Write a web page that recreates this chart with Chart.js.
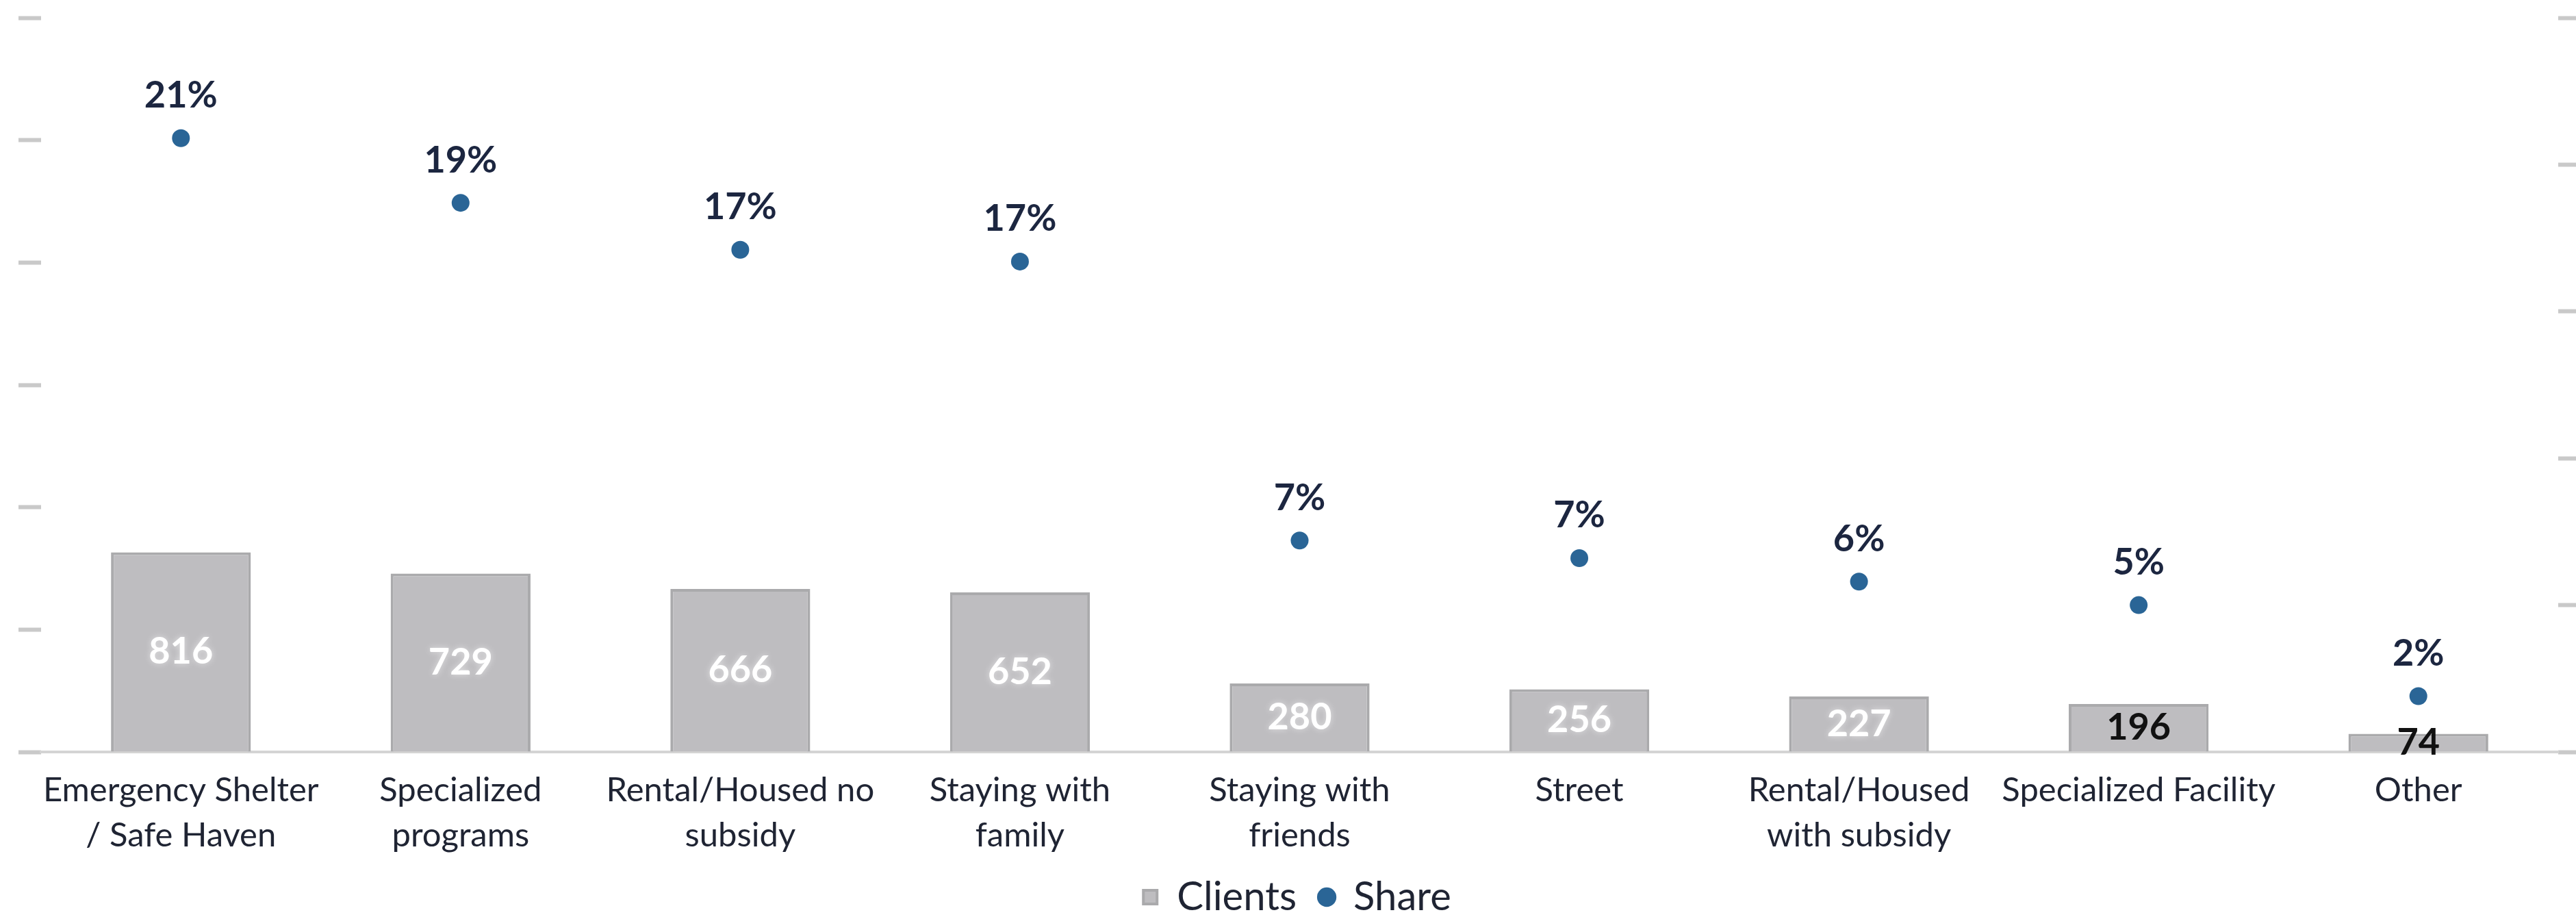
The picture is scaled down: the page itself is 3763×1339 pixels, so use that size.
<!DOCTYPE html>
<html>
<head>
<meta charset="utf-8">
<title>Clients by prior living situation</title>
<script src="https://cdn.jsdelivr.net/npm/chart.js@4/dist/chart.umd.min.js"></script>
<style>
  html, body { margin: 0; padding: 0; background: #ffffff; }
  #wrap { width: 3763px; height: 1339px; }
</style>
</head>
<body>
<div id="wrap"><canvas id="chart" width="3763" height="1339"></canvas></div>
<script>
// Prior living situation categories (x axis)
const categories = [
  ['Emergency Shelter', '/ Safe Haven'],
  ['Specialized', 'programs'],
  ['Rental/Housed no', 'subsidy'],
  ['Staying with', 'family'],
  ['Staying with', 'friends'],
  'Street',
  ['Rental/Housed', 'with subsidy'],
  'Specialized Facility',
  'Other'
];

// Number of clients per category (left axis)
const clients = [816, 729, 666, 652, 280, 256, 227, 196, 74];

// Share of all clients per category (right axis)
const share = [0.209, 0.187, 0.171, 0.167, 0.072, 0.066, 0.058, 0.050, 0.019];

// Axis ranges and tick steps
const clientAxis = { min: 0, max: 3000, step: 500 };
const shareAxis = { min: 0, max: 0.25, step: 0.05 };

// ---- styling ----
const FONT = "Lato, 'Liberation Sans', sans-serif";
const TEXT = '#1f2433';
const BAR_FILL = '#bebdc0';
const BAR_EDGE = '#aaaaac';
const DOT = '#2a6596';
const TICK_GREY = '#c9c9c9';
// white numbers on the taller bars, dark on the two shortest
const barLabelColors = ['#ffffff', '#ffffff', '#ffffff', '#ffffff', '#ffffff', '#ffffff', '#ffffff', '#111111', '#111111'];

// Draws the value labels: counts centred inside bars, percentages above dots
const valueLabels = {
  id: 'valueLabels',
  afterDatasetsDraw(chart) {
    const ctx = chart.ctx;
    ctx.save();
    ctx.textAlign = 'center';
    ctx.textBaseline = 'middle';

    const barMeta = chart.getDatasetMeta(0);
    ctx.font = "bold 54px " + FONT;
    barMeta.data.forEach((el, i) => {
      const v = chart.data.datasets[0].data[i];
      const cy = (el.y + el.base) / 2;
      const col = barLabelColors[i];
      if (col === '#ffffff') {
        ctx.shadowColor = 'rgba(255,255,255,0.55)';
        ctx.shadowBlur = 10;
      } else {
        ctx.shadowColor = 'transparent';
        ctx.shadowBlur = 0;
      }
      ctx.fillStyle = col;
      ctx.fillText(String(v), el.x, cy);
    });

    ctx.shadowColor = 'transparent';
    ctx.shadowBlur = 0;
    const dotMeta = chart.getDatasetMeta(1);
    ctx.fillStyle = '#1c2640';
    dotMeta.data.forEach((el, i) => {
      const v = chart.data.datasets[1].data[i];
      ctx.fillText(Math.round(v * 100) + '%', el.x, el.y - 62);
    });
    ctx.restore();
  }
};

new Chart(document.getElementById('chart'), {
  type: 'bar',
  data: {
    labels: categories,
    datasets: [
      {
        type: 'bar',
        label: 'Clients',
        data: clients,
        yAxisID: 'y',
        backgroundColor: BAR_FILL,
        borderColor: BAR_EDGE,
        borderWidth: 4,
        categoryPercentage: 1.0,
        barPercentage: 0.5,
        pointStyle: 'rect',
        order: 2
      },
      {
        type: 'line',
        label: 'Share',
        data: share,
        yAxisID: 'y1',
        showLine: false,
        pointStyle: 'circle',
        pointRadius: 13,
        pointHoverRadius: 13,
        pointBorderWidth: 0,
        backgroundColor: DOT,
        borderColor: DOT,
        order: 1
      }
    ]
  },
  options: {
    responsive: false,
    animation: false,
    devicePixelRatio: 1,
    layout: { padding: { left: 27, right: 0, top: 26, bottom: -10 } },
    plugins: {
      tooltip: { enabled: false },
      legend: {
        position: 'bottom',
        labels: {
          usePointStyle: true,
          boxWidth: 20,
          boxHeight: 20,
          padding: 34,
          color: TEXT,
          font: { family: FONT, size: 58 },
          sort: (a, b) => a.datasetIndex - b.datasetIndex
        }
      }
    },
    scales: {
      x: {
        type: 'category',
        grid: { display: true, drawOnChartArea: false, drawTicks: false },
        border: { display: true, color: '#d4d4d4', width: 4 },
        ticks: {
          padding: 24,
          color: TEXT,
          maxRotation: 0,
          autoSkip: false,
          font: { family: FONT, size: 49, lineHeight: 1.33 }
        },
        // keep the category band compact so the legend sits just below the labels
        afterFit(scale) { scale.height = 149; }
      },
      y: {
        position: 'left',
        min: clientAxis.min,
        max: clientAxis.max,
        ticks: { stepSize: clientAxis.step, display: false },
        grid: { drawOnChartArea: false, drawTicks: true, tickLength: 33, tickWidth: 6, tickColor: TICK_GREY },
        border: { display: false }
      },
      y1: {
        position: 'right',
        min: shareAxis.min,
        max: shareAxis.max,
        ticks: { stepSize: shareAxis.step, display: false },
        grid: { drawOnChartArea: false, drawTicks: true, tickLength: 26, tickWidth: 6, tickColor: TICK_GREY },
        border: { display: false }
      }
    }
  },
  plugins: [valueLabels]
});
</script>
</body>
</html>
